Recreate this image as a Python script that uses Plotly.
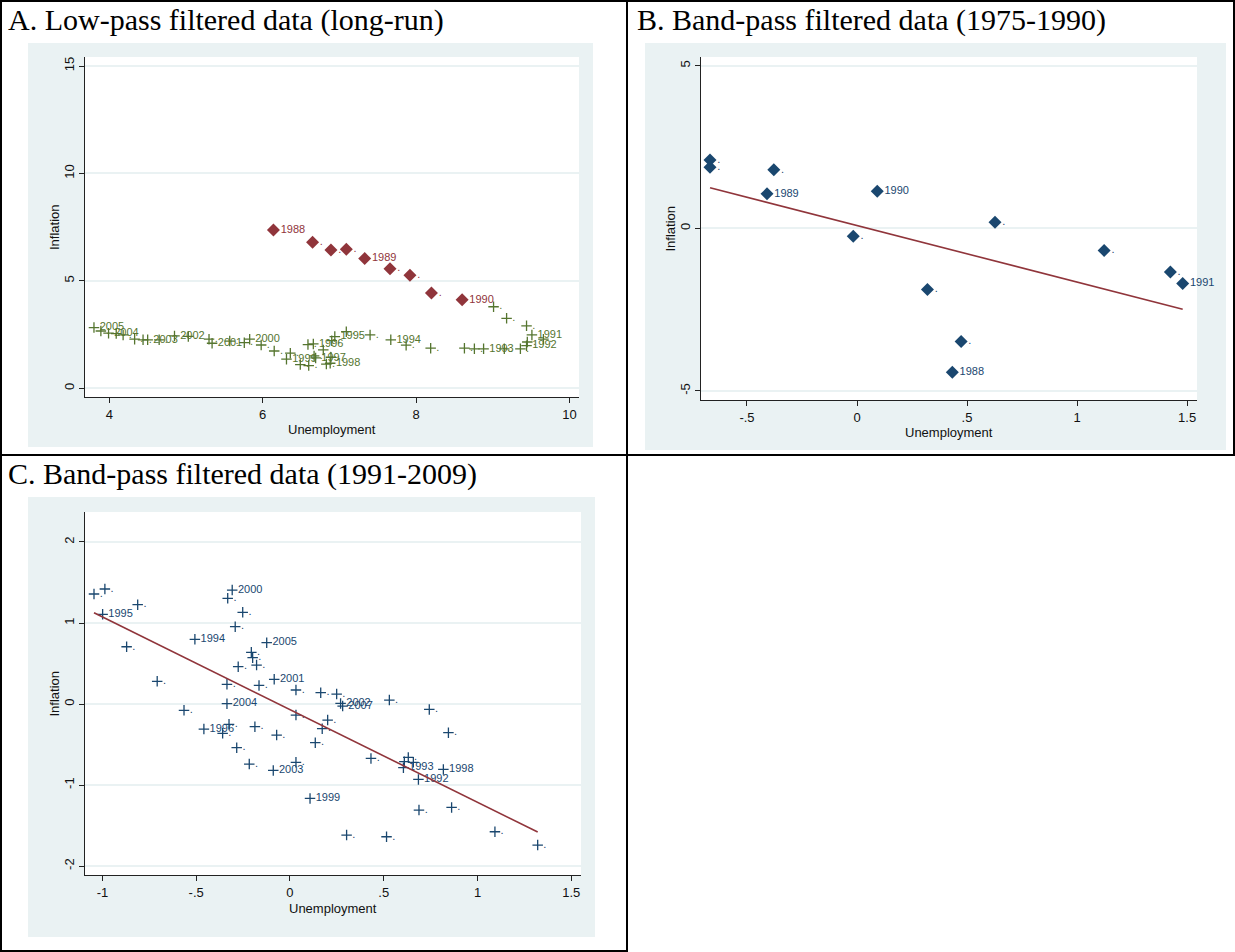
import plotly.graph_objects as go

W, H = 1235, 952

# ---------------- data ----------------
# Panel A: low-pass filtered (long-run)
a_red_x = [6.14, 6.65, 6.89, 7.09, 7.33, 7.66, 7.92, 8.20, 8.60]
a_red_y = [7.37, 6.80, 6.44, 6.47, 6.04, 5.57, 5.26, 4.44, 4.12]
a_red_lab = ["1988", ".", ".", ".", "1989", ".", ".", ".", "1990"]

a_grn_x = [3.80, 3.89, 3.99, 4.09, 4.18, 4.33, 4.44, 4.50, 4.65, 4.85, 5.03,
           5.30, 5.34, 5.57, 5.76, 5.83, 5.98, 6.15, 6.36, 6.31, 6.49, 6.59,
           6.66, 6.60, 6.67, 6.69, 6.79, 6.83, 6.89, 6.88, 6.90, 6.94, 7.09,
           7.40, 7.67, 7.87, 8.19, 8.63, 8.76, 8.88, 9.15, 9.36, 9.44, 9.45,
           9.51, 9.66, 9.01, 9.18, 9.44]
a_grn_y = [2.83, 2.67, 2.57, 2.55, 2.49, 2.29, 2.26, 2.26, 2.26, 2.44, 2.42,
           2.29, 2.10, 2.20, 2.13, 2.29, 2.02, 1.74, 1.64, 1.36, 1.11, 2.04,
           2.07, 1.06, 1.51, 1.42, 1.79, 1.13, 1.45, 1.17, 2.22, 2.41, 2.64,
           2.49, 2.26, 2.01, 1.87, 1.87, 1.84, 1.84, 1.84, 1.84, 1.99, 2.16,
           2.49, 2.29, 3.80, 3.26, 2.91]
a_grn_lab = ["2005", ".", "2004", ".", ".", ".", ".", "2003", ".", "2002", ".",
             ".", "2001", ".", ".", "2000", ".", ".", ".", "1999", ".", ".",
             "1996", ".", ".", "1997", ".", ".", ".", "1998", ".", "1995", ".",
             ".", "1994", ".", ".", ".", ".", "1993", ".", ".", "1992", ".",
             "1991", ".", ".", ".", "."]

# Panel B: band-pass filtered (1975-1990)
b_x = [-0.668, -0.668, -0.378, -0.409, 0.092, -0.017, 0.320, 0.627, 1.123,
       1.424, 1.480, 0.473, 0.433]
b_y = [2.10, 1.88, 1.80, 1.06, 1.14, -0.24, -1.88, 0.19, -0.68, -1.34, -1.70,
       -3.48, -4.43]
b_lab = [".", ".", ".", "1989", "1990", ".", ".", ".", ".", ".", "1991", ".",
         "1988"]
b_fit_x = [-0.668, 1.480]
b_fit_y = [1.25, -2.49]

# Panel C: band-pass filtered (1991-2009)
c_x = [-1.045, -0.987, -0.999, -0.812, -0.871, -0.708, -0.507, -0.332, -0.308,
       -0.252, -0.292, -0.124, -0.206, -0.199, -0.178, -0.276, -0.084, -0.165,
       -0.336, 0.032, 0.164, -0.336, -0.565, -0.459, -0.325, -0.359, -0.187,
       -0.071, 0.032, -0.284, -0.217, -0.089, 0.032, 0.135, 0.201, 0.172,
       0.107, 0.249, 0.270, 0.281, 0.530, 0.743, 0.432, 0.631, 0.610, 0.658,
       0.605, 0.685, 0.818, 0.845, 0.688, 0.862, 0.302, 0.515, 1.093, 1.321]
c_y = [1.358, 1.420, 1.107, 1.226, 0.707, 0.280, 0.799, 1.305, 1.407, 1.132,
       0.955, 0.757, 0.638, 0.572, 0.481, 0.461, 0.305, 0.230, 0.243, 0.173,
       0.140, 0.004, -0.078, -0.309, -0.251, -0.362, -0.280, -0.383, -0.136,
       -0.539, -0.741, -0.819, -0.720, -0.477, -0.198, -0.304, -1.165, 0.123,
       0.008, -0.025, 0.049, -0.066, -0.671, -0.659, -0.712, -0.720, -0.786,
       -0.930, -0.807, -0.354, -1.309, -1.276, -1.617, -1.638, -1.576, -1.741]
c_lab = [".", ".", "1995", ".", ".", ".", "1994", ".", "2000", ".", ".", "2005",
         ".", ".", ".", ".", "2001", ".", ".", ".", ".", "2004", ".", "1996",
         ".", ".", ".", ".", ".", ".", ".", "2003", ".", ".", ".", ".", "1999",
         ".", "2002", "2007", ".", ".", ".", ".", ".", ".", "1993", "1992",
         "1998", ".", ".", ".", ".", ".", ".", "."]
c_fit_x = [-1.045, 1.321]
c_fit_y = [1.127, -1.580]

# tick labels
a_xticks = [4, 6, 8, 10]
a_yticks = [0, 5, 10, 15]
b_xticks = [-0.5, 0, 0.5, 1, 1.5]
b_xtext = ["-.5", "0", ".5", "1", "1.5"]
b_yticks = [-5, 0, 5]
b_ytext = ["-5", "0", "5"]
c_xticks = [-1, -0.5, 0, 0.5, 1, 1.5]
c_xtext = ["-1", "-.5", "0", ".5", "1", "1.5"]
c_yticks = [-2, -1, 0, 1, 2]
c_ytext = ["-2", "-1", "0", "1", "2"]

titles = ["A. Low-pass filtered data (long-run)",
          "B. Band-pass filtered data (1975-1990)",
          "C. Band-pass filtered data (1991-2009)"]

# ---------------- style ----------------
NAVY = "#1a476f"
MAROON = "#90353b"
GREEN = "#55752f"
BG = "#eaf2f3"
SANS = "Liberation Sans, Arial, sans-serif"
SERIF = "Liberation Serif, Times New Roman, serif"


def fx(p):
    return p / W


def fy(p):
    return 1 - p / H


fig = go.Figure()


def pts(x, y, lab, color, symbol, size, xa, ya):
    if symbol == "diamond":
        marker = dict(symbol="diamond", size=size, color=color, line=dict(width=0))
    else:
        marker = dict(symbol="cross-thin", size=size, color=color,
                      line=dict(width=1.3, color=color))
    fig.add_trace(go.Scatter(
        x=x, y=y, text=lab, mode="markers+text", textposition="middle right",
        textfont=dict(family=SANS, size=11, color=color), marker=marker,
        xaxis=xa, yaxis=ya, showlegend=False, hoverinfo="skip", cliponaxis=False))


pts(a_grn_x, a_grn_y, a_grn_lab, GREEN, "cross", 7.5, "x", "y")
pts(a_red_x, a_red_y, a_red_lab, MAROON, "diamond", 10, "x", "y")
pts(b_x, b_y, b_lab, NAVY, "diamond", 10, "x2", "y2")
fig.add_trace(go.Scatter(x=b_fit_x, y=b_fit_y, mode="lines",
                         line=dict(color=MAROON, width=1.6), xaxis="x2",
                         yaxis="y2", showlegend=False, hoverinfo="skip"))
pts(c_x, c_y, c_lab, NAVY, "cross", 7.5, "x3", "y3")
fig.add_trace(go.Scatter(x=c_fit_x, y=c_fit_y, mode="lines",
                         line=dict(color=MAROON, width=1.6), xaxis="x3",
                         yaxis="y3", showlegend=False, hoverinfo="skip"))

# panel geometry in pixels: plot area (left, right, top, bottom), gray box
panels = [
    dict(plot=(85, 579, 57, 397), gray=(28, 593, 43, 447),
         xr=(3.683, 10.124), yr=(-0.40, 15.42)),
    dict(plot=(701, 1197, 57, 400), gray=(645, 1226, 43, 450),
         xr=(-0.709, 1.545), yr=(-5.28, 5.27)),
    dict(plot=(85, 581, 512, 875), gray=(28, 595, 497, 937),
         xr=(-1.093, 1.552), yr=(-2.11, 2.37)),
]

axis_common = dict(showline=True, linecolor="#222", linewidth=1, ticks="outside",
                   ticklen=5, tickcolor="#222", tickwidth=1, zeroline=False,
                   tickfont=dict(family=SANS, size=13, color="#111"),
                   fixedrange=True)

tickspecs = [
    (a_xticks, [str(v) for v in a_xticks], a_yticks, [str(v) for v in a_yticks]),
    (b_xticks, b_xtext, b_yticks, b_ytext),
    (c_xticks, c_xtext, c_yticks, c_ytext),
]

shapes = []
annotations = []
layout = {}
for i, p in enumerate(panels):
    l, r, t, b = p["plot"]
    gl, gr, gt, gb = p["gray"]
    sfx = "" if i == 0 else str(i + 1)
    xv, xt, yv, yt = tickspecs[i]
    layout["xaxis" + sfx] = dict(domain=[fx(l), fx(r)], range=list(p["xr"]),
                                 anchor="y" + sfx, tickvals=xv, ticktext=xt,
                                 showgrid=False, **axis_common)
    layout["yaxis" + sfx] = dict(domain=[fy(b), fy(t)], range=list(p["yr"]),
                                 anchor="x" + sfx, tickvals=yv, ticktext=yt,
                                 tickangle=-90, showgrid=True, gridcolor=BG,
                                 gridwidth=1.5, **axis_common)
    shapes.append(dict(type="rect", xref="paper", yref="paper", layer="below",
                       x0=fx(gl), x1=fx(gr), y0=fy(gb), y1=fy(gt),
                       fillcolor=BG, line=dict(width=0)))
    shapes.append(dict(type="rect", xref="paper", yref="paper", layer="below",
                       x0=fx(l), x1=fx(r), y0=fy(b), y1=fy(t),
                       fillcolor="white", line=dict(width=0)))
    # axis titles
    annotations.append(dict(text="Unemployment", xref="paper", yref="paper",
                            x=fx((l + r) / 2), y=fy(b + 33), showarrow=False,
                            xanchor="center", yanchor="middle",
                            font=dict(family=SANS, size=13, color="#111")))
    annotations.append(dict(text="Inflation", xref="paper", yref="paper",
                            x=fx(l - 31), y=fy((t + b) / 2), showarrow=False,
                            textangle=-90, xanchor="center", yanchor="middle",
                            font=dict(family=SANS, size=13, color="#111")))

# panel titles
title_pos = [(6, 20), (635, 20), (6, 474)]
for txt, (px, py) in zip(titles, title_pos):
    annotations.append(dict(text=txt, xref="paper", yref="paper", x=fx(px),
                            y=fy(py), xanchor="left", yanchor="middle",
                            showarrow=False,
                            font=dict(family=SERIF, size=30, color="black")))

# table border lines
border = [
    (0, 1, 1235, 1), (1, 0, 1, 952), (627, 0, 627, 952), (0, 455, 1235, 455),
    (0, 951, 627, 951), (1234, 0, 1234, 455),
]
for x0, y0, x1, y1 in border:
    shapes.append(dict(type="line", xref="paper", yref="paper", layer="above",
                       x0=fx(x0), y0=fy(y0), x1=fx(x1), y1=fy(y1),
                       line=dict(color="black", width=2)))

fig.update_layout(width=W, height=H, margin=dict(l=0, r=0, t=0, b=0),
                  paper_bgcolor="white", plot_bgcolor="white",
                  shapes=shapes, annotations=annotations, showlegend=False,
                  **layout)

fig.write_html("out.html")
